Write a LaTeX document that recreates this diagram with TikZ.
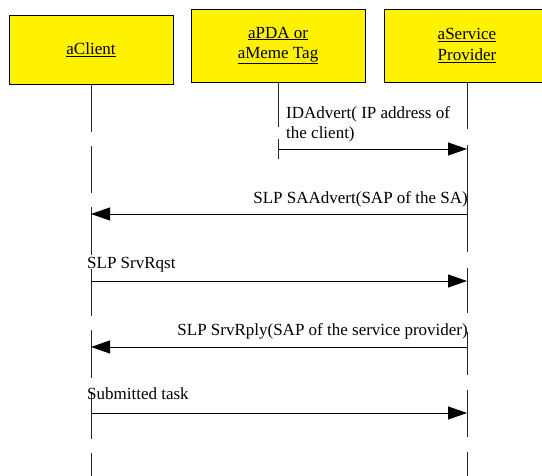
\documentclass[tikz,border=0pt]{standalone}
\usepackage{fontspec}
\setmainfont{Liberation Serif}
\usetikzlibrary{arrows.meta}
\tikzset{
  objbox/.style={draw=black, fill=yellow, line width=0.9pt, align=center, inner sep=0pt},
  lifeline/.style={draw=black!85, line width=0.9pt},
  msg/.style={draw=black, line width=0.9pt, -{Triangle[length=19pt,width=13pt]}},
  lbl/.style={inner sep=0pt, align=left},
  txt/.style={font=\fontsize{17}{20.5}\selectfont}
}
\begin{document}
\begin{tikzpicture}[x=1pt,y=-1pt,txt]
\useasboundingbox (0,0) rectangle (542,476);
\clip (0,0) rectangle (542,476);
% objects
\node[objbox, minimum width=164pt, minimum height=69pt] (client) at (91,49.5) {\underline{aClient}};
\node[objbox, minimum width=174pt, minimum height=73pt] (pda) at (278,45.5) {\underline{aPDA or}\\\underline{aMeme Tag}};
\node[objbox, minimum width=166pt, minimum height=73pt] (prov) at (467,45.5) {\underline{aService}\\\underline{Provider}};
% lifelines
\coordinate (cl) at (91,476);
\draw[lifeline, dash pattern=on 47.5pt off 14pt] (client.south) -- (cl);
\coordinate (pd1) at (278,127);
\coordinate (pd2a) at (278,139);
\coordinate (pd2b) at (278,159);
\draw[lifeline] (pda.south) -- (pd1);
\draw[lifeline] (pd2a) -- (pd2b);
\coordinate (p1) at (467,129);
\coordinate (p2a) at (467,145);
\coordinate (p2b) at (467,252);
\coordinate (p3a) at (467,268);
\coordinate (p3b) at (467,313);
\coordinate (p4a) at (467,332);
\coordinate (p4b) at (467,375);
\coordinate (p5a) at (467,390);
\coordinate (p5b) at (467,437);
\coordinate (p6a) at (467,452);
\coordinate (p6b) at (467,476);
\draw[lifeline] (prov.south) -- (p1);
\draw[lifeline] (p2a) -- (p2b);
\draw[lifeline] (p3a) -- (p3b);
\draw[lifeline] (p4a) -- (p4b);
\draw[lifeline] (p5a) -- (p5b);
\draw[lifeline] (p6a) -- (p6b);
% messages
\coordinate (m1a) at (278,149); \coordinate (m1b) at (467,149);
\draw[msg] (m1a) -- (m1b);
\node[lbl, anchor=north west] (l1) at (286,106) {IDAdvert( IP address of\\the client)};
\coordinate (m2a) at (467,214); \coordinate (m2b) at (91,214);
\draw[msg] (m2a) -- (m2b);
\node[lbl, anchor=base east] (l2) at (468,204) {SLP SAAdvert(SAP of the SA)};
\coordinate (m3a) at (91,281); \coordinate (m3b) at (467,281);
\draw[msg] (m3a) -- (m3b);
\node[lbl, anchor=base west] (l3) at (87,269) {SLP SrvRqst};
\coordinate (m4a) at (467,347); \coordinate (m4b) at (91,347);
\draw[msg] (m4a) -- (m4b);
\node[lbl, anchor=base east] (l4) at (468,336) {SLP SrvRply(SAP of the service provider)};
\coordinate (m5a) at (91,413); \coordinate (m5b) at (467,413);
\draw[msg] (m5a) -- (m5b);
\node[lbl, anchor=base west] (l5) at (87,400) {Submitted task};
\end{tikzpicture}
\end{document}
